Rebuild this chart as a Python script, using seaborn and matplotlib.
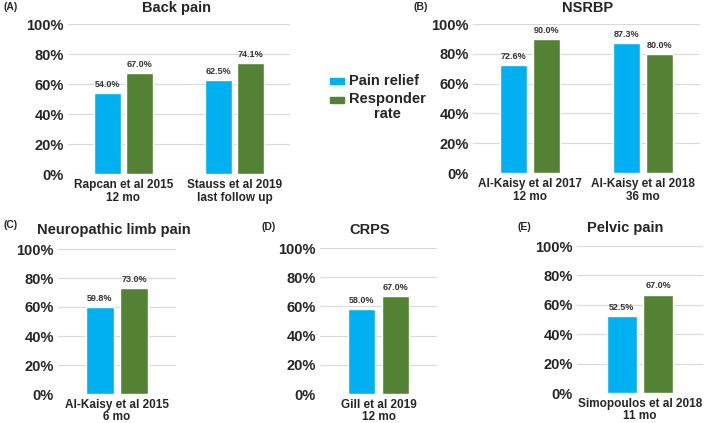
"""
Spinal cord stimulation outcomes by indication
Grouped bar panels: pain relief vs responder rate
"""

import pandas as pd
import matplotlib
matplotlib.use('Agg')
import matplotlib.pyplot as plt
import seaborn as sns
from matplotlib.patches import Rectangle

# Data
metrics = ['Pain relief', 'Responder rate']

back_studies = ['Rapcan et al 2015\n12 mo', 'Stauss et al 2019\nlast follow up']
back_relief = [54.0, 62.5]
back_responder = [67.0, 74.1]

nsrbp_studies = ['Al-Kaisy et al 2017\n12 mo', 'Al-Kaisy et al 2018\n36 mo']
nsrbp_relief = [72.6, 87.3]
nsrbp_responder = [90.0, 80.0]

limb_studies = ['Al-Kaisy et al 2015\n6 mo']
limb_relief = [59.8]
limb_responder = [73.0]

crps_studies = ['Gill et al 2019\n12 mo']
crps_relief = [58.0]
crps_responder = [67.0]

pelvic_studies = ['Simopoulos et al 2018\n11 mo']
pelvic_relief = [52.5]
pelvic_responder = [67.0]

BLUE = '#00B0F0'
GREEN = '#548235'
W, H = 709, 423

sns.set_theme(style='white')
plt.rcParams['font.family'] = ['Liberation Sans', 'DejaVu Sans']
plt.rcParams['font.weight'] = 'bold'


def make_frame(studies, relief, responder):
    rows = []
    for s, r1, r2 in zip(studies, relief, responder):
        rows.append({'study': s, 'metric': metrics[0], 'value': r1})
        rows.append({'study': s, 'metric': metrics[1], 'value': r2})
    return pd.DataFrame(rows)


def px_axes(fig, left, right, top, bottom):
    return fig.add_axes([left / W, (H - bottom) / H, (right - left) / W, (bottom - top) / H])


def draw_panel(ax, df, title, letter, letter_xy, title_xy, lsp=1.1):
    sns.barplot(data=df, x='study', y='value', hue='metric', hue_order=metrics,
                palette=[BLUE, GREEN], width=0.58, gap=0.18, ax=ax,
                legend=False, errorbar=None, saturation=1)
    ax.set_ylim(0, 100)
    ax.set_yticks(range(0, 101, 20))
    ax.set_yticklabels([f'{v}%' for v in range(0, 101, 20)], fontsize=10.5, fontweight='bold')
    ax.tick_params(axis='both', length=0)
    ax.tick_params(axis='x', labelsize=8.5, pad=3.5)
    ax.tick_params(axis='y', pad=3)
    for lab in ax.get_xticklabels():
        lab.set_fontweight('bold')
        lab.set_linespacing(lsp)
    ax.set_xlabel('')
    ax.set_ylabel('')
    ax.yaxis.grid(True, color='#D9D9D9', linewidth=0.8)
    ax.set_axisbelow(True)
    for sp in ax.spines.values():
        sp.set_visible(False)
    for cont in ax.containers:
        ax.bar_label(cont, fmt='%.1f%%', fontsize=6.5, fontweight='bold',
                     color='#333333', padding=3)
    fig = ax.figure
    fig.text(title_xy[0] / W, 1 - title_xy[1] / H, title, fontsize=10.5, fontweight='bold',
             ha='center', va='center')
    fig.text(letter_xy[0] / W, 1 - letter_xy[1] / H, letter, fontsize=7.5,
             fontweight='bold', ha='left', va='center')


fig = plt.figure(figsize=(W / 100, H / 100), dpi=100)

axA = px_axes(fig, 68, 290, 24, 174)
draw_panel(axA, make_frame(back_studies, back_relief, back_responder),
           'Back pain', '(A)', (3, 7), (176, 8))

axB = px_axes(fig, 473, 700, 24, 173)
draw_panel(axB, make_frame(nsrbp_studies, nsrbp_relief, nsrbp_responder),
           'NSRBP', '(B)', (413, 7), (588, 8))

axC = px_axes(fig, 58, 176, 249, 394)
draw_panel(axC, make_frame(limb_studies, limb_relief, limb_responder),
           'Neuropathic limb pain', '(C)', (3, 225), (114, 230), lsp=1.0)

axD = px_axes(fig, 320, 437, 248, 394)
draw_panel(axD, make_frame(crps_studies, crps_relief, crps_responder),
           'CRPS', '(D)', (261, 227), (370, 230), lsp=1.0)

axE = px_axes(fig, 577, 703, 246, 393)
draw_panel(axE, make_frame(pelvic_studies, pelvic_relief, pelvic_responder),
           'Pelvic pain', '(E)', (517, 227), (625, 228), lsp=1.0)

# legend drawn by hand to keep the two-line label layout
for color, yc in [(BLUE, 81), (GREEN, 100)]:
    fig.add_artist(Rectangle((330 / W, 1 - (yc + 3) / H), 14 / W, 6 / H,
                             color=color, transform=fig.transFigure))
fig.text(349 / W, 1 - 81 / H, 'Pain relief', fontsize=10.5, fontweight='bold',
         ha='left', va='center')
fig.text(349 / W, 1 - 92 / H, 'Responder\nrate', fontsize=10.5, fontweight='bold',
         ha='left', va='top', multialignment='center', linespacing=1.05)

fig.savefig('out.png', dpi=100)
